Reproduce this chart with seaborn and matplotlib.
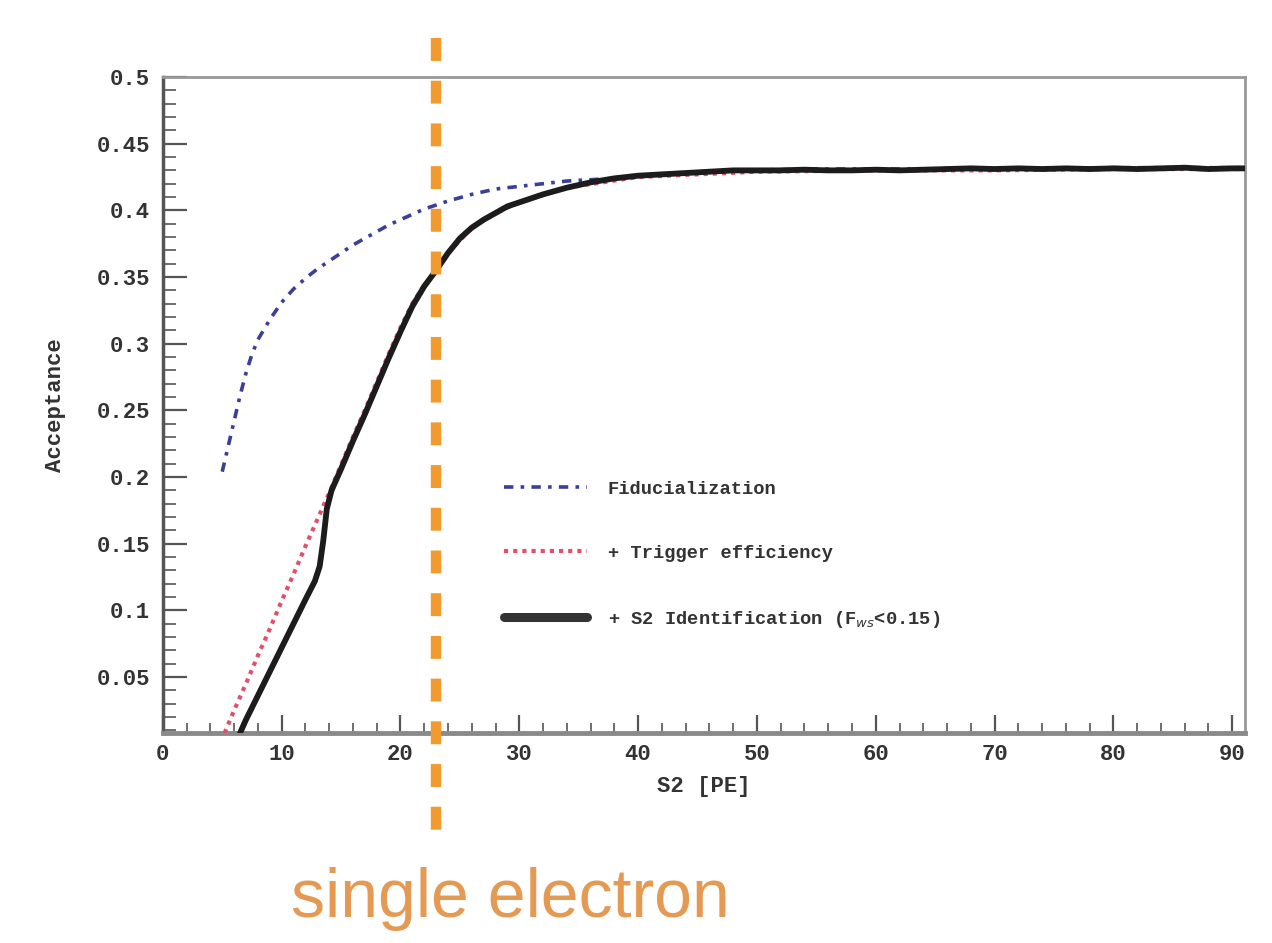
import matplotlib
matplotlib.use("Agg")
import matplotlib.pyplot as plt
import seaborn as sns
import pandas as pd
from matplotlib.ticker import MultipleLocator

# ---------------- data ----------------
fid_x = [5.0, 5.5, 6.0, 6.5, 7.0, 7.5, 8.0, 9.0, 10.0, 11.0, 12.0, 13.0, 14.0, 15.0, 16.0,
         17.0, 18.0, 19.0, 20.0, 21.0, 22.0, 23.0, 24.0, 26.0, 28.0, 30.0, 32.0, 34.0, 36.0,
         38.0, 40.0, 44.0, 48.0, 55.0, 60.0, 70.0, 80.0, 91.0]
fid_y = [0.204, 0.223, 0.242, 0.261, 0.278, 0.292, 0.303, 0.318, 0.331, 0.341, 0.349, 0.356, 0.362, 0.368, 0.374,
         0.379, 0.384, 0.389, 0.393, 0.397, 0.401, 0.404, 0.407, 0.412, 0.416, 0.418, 0.420, 0.422, 0.423,
         0.424, 0.426, 0.428, 0.430, 0.431, 0.431, 0.431, 0.432, 0.432]

trig_x = [5.2, 6.0, 7.0, 8.0, 9.0, 10.0, 11.0, 12.0, 13.0, 14.0, 15.0, 16.0, 17.0, 18.0, 19.0,
          20.0, 21.0, 22.0, 23.0, 24.0, 26.0, 28.0, 30.0, 34.0, 40.0, 50.0, 60.0, 70.0, 80.0, 91.0]
trig_y = [0.008, 0.025, 0.045, 0.066, 0.086, 0.107, 0.127, 0.148, 0.168, 0.188, 0.209, 0.230, 0.250, 0.271, 0.292,
          0.312, 0.330, 0.344, 0.355, 0.368, 0.387, 0.398, 0.406, 0.417, 0.425, 0.429, 0.430, 0.430, 0.431, 0.431]

s2_x = [6.5, 7.0, 8.0, 9.0, 10.0, 11.0, 12.0, 12.8, 13.2, 13.5, 13.8, 14.2, 15.0, 16.0, 17.0, 18.0, 19.0, 20.0,
        21.0, 22.0, 23.0, 24.0, 25.0, 26.0, 27.0, 28.0, 29.0, 30.0, 32.0, 34.0, 36.0, 38.0, 40.0,
        42.0, 44.0, 46.0, 48.0, 50.0, 52.0, 54.0, 56.0, 58.0, 60.0, 62.0, 64.0, 66.0, 68.0, 70.0,
        72.0, 74.0, 76.0, 78.0, 80.0, 82.0, 84.0, 86.0, 88.0, 90.0, 91.0]
s2_y = [0.008, 0.018, 0.036, 0.054, 0.072, 0.090, 0.108, 0.122, 0.133, 0.152, 0.176, 0.190, 0.206, 0.227, 0.247, 0.268, 0.289, 0.309,
        0.328, 0.343, 0.355, 0.368, 0.379, 0.387, 0.393, 0.398, 0.403, 0.406, 0.412, 0.417, 0.421, 0.424, 0.426,
        0.427, 0.428, 0.429, 0.430, 0.430, 0.430, 0.4305, 0.430, 0.430, 0.4305, 0.430, 0.4305, 0.431, 0.4315, 0.431,
        0.4315, 0.431, 0.4315, 0.431, 0.4315, 0.431, 0.4315, 0.432, 0.431, 0.4315, 0.4315]

labels = ["Fiducialization", "+ Trigger efficiency", "+ S2 Identification (F$_{ws}$<0.15)"]
single_electron_x = 23.0
x_ticks = [0, 10, 20, 30, 40, 50, 60, 70, 80, 90]
y_ticks = [0.05, 0.1, 0.15, 0.2, 0.25, 0.3, 0.35, 0.4, 0.45, 0.5]
y_ticklabels = ["0.05", "0.1", "0.15", "0.2", "0.25", "0.3", "0.35", "0.4", "0.45", "0.5"]

# ---------------- plot ----------------
sns.set_theme(style="white")
plt.rcParams["font.family"] = ["Liberation Mono", "DejaVu Sans Mono"]
plt.rcParams["mathtext.fontset"] = "dejavusans"

fig = plt.figure(figsize=(12.72, 9.43), dpi=100)
ax = fig.add_axes([0.128, 0.2227, 0.851, 0.6956])

df_fid = pd.DataFrame({"x": fid_x, "y": fid_y})
df_trig = pd.DataFrame({"x": trig_x, "y": trig_y})
df_s2 = pd.DataFrame({"x": s2_x, "y": s2_y})

sns.lineplot(data=df_fid, x="x", y="y", ax=ax, sort=False, estimator=None,
             color="#3b3f96", lw=2.6, linestyle=(0, (2.6, 2.0, 1.0, 2.0)), label=labels[0], zorder=2)
sns.lineplot(data=df_trig, x="x", y="y", ax=ax, sort=False, estimator=None,
             color="#e0506a", lw=3.0, linestyle=(0, (1.0, 1.2)), label=labels[1], zorder=3)
sns.lineplot(data=df_s2, x="x", y="y", ax=ax, sort=False, estimator=None,
             color="#1c1c1c", lw=4.2, linestyle="-", label=labels[2], zorder=4)

# drawn from the top downwards so the dash pattern starts at the top end
ax.axvline(single_electron_x, ymin=1.0595, ymax=-0.172, clip_on=False,
           color="#F29A2E", lw=7.5, linestyle=(0, (2.2, 1.9)), zorder=6)

ax.set_xlim(0, 91.1)
ax.set_ylim(0.008, 0.5)
ax.set_xticks(x_ticks)
ax.set_yticks(y_ticks)
ax.set_yticklabels(y_ticklabels)
ax.xaxis.set_minor_locator(MultipleLocator(2))
ax.yaxis.set_minor_locator(MultipleLocator(0.01))

ax.tick_params(axis="both", which="both", direction="in", colors="#555555",
               labelcolor="#333333", bottom=True, left=True, top=False, right=False)
ax.tick_params(axis="y", which="major", length=17, width=1.6, labelsize=16, pad=9)
ax.tick_params(axis="y", which="minor", length=9, width=1.2)
ax.tick_params(axis="x", which="major", length=13, width=1.6, labelsize=16, pad=8)
ax.tick_params(axis="x", which="minor", length=7, width=1.2)
for lab in ax.get_xticklabels() + ax.get_yticklabels():
    lab.set_fontweight("bold")

for side, sp in ax.spines.items():
    sp.set_visible(True)
ax.spines["left"].set_color("#555555")
ax.spines["left"].set_linewidth(2.5)
ax.spines["bottom"].set_color("#8a8a8a")
ax.spines["bottom"].set_linewidth(3.5)
ax.spines["top"].set_color("#999999")
ax.spines["top"].set_linewidth(2.0)
ax.spines["right"].set_color("#999999")
ax.spines["right"].set_linewidth(2.0)

ax.set_xlabel("S2 [PE]", fontsize=16, fontweight="bold", color="#333333", labelpad=8)
ax.set_ylabel("Acceptance", fontsize=16, fontweight="bold", color="#333333", labelpad=22)

leg = ax.legend(loc="upper left", bbox_to_anchor=(0.3, 0.41), frameon=False,
                handlelength=4.4, handletextpad=1.1, labelspacing=2.5,
                prop={"weight": "bold", "size": 13.5})
for t in leg.get_texts():
    t.set_color("#333333")
leg.get_lines()[2].set_linewidth(6.5)
leg.get_lines()[2].set_color("#333333")

fig.text(0.401, 0.047, "single electron", ha="center", va="center",
         fontsize=49, color="#E49A52", family=["Liberation Sans", "DejaVu Sans"])

fig.savefig("out.png", dpi=100, facecolor="white")
